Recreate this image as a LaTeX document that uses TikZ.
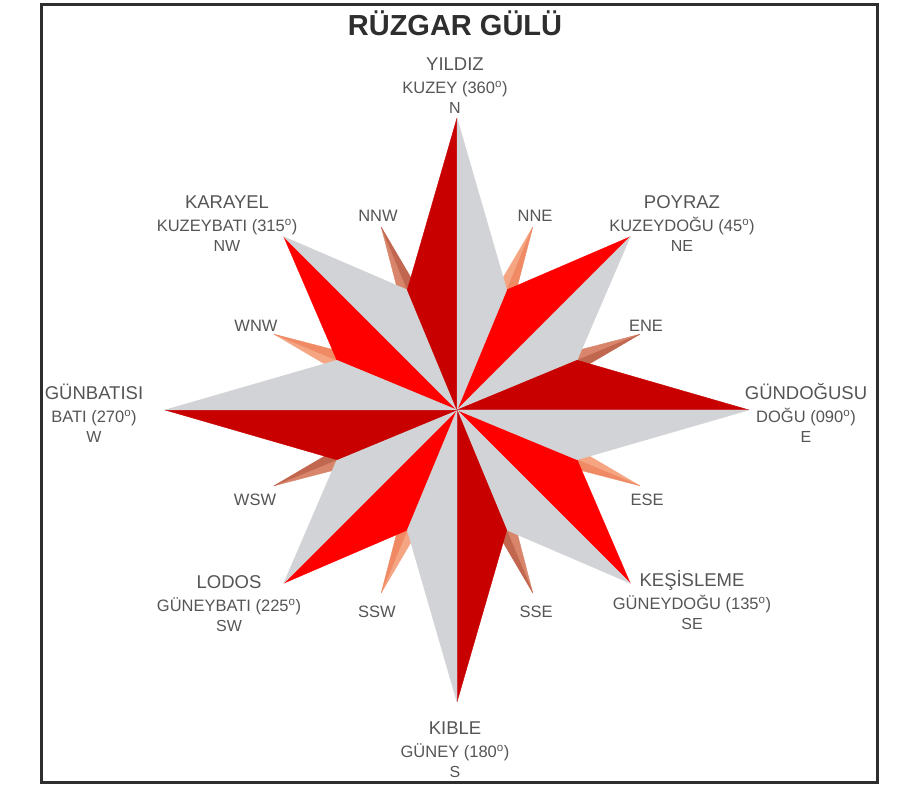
\documentclass[tikz,border=0pt]{standalone}
\usepackage{fontspec}
\setmainfont{Liberation Sans}
\usepackage{tikz}
\usetikzlibrary{positioning}
\definecolor{darkred}{HTML}{C80000}
\definecolor{brightred}{HTML}{FF0000}
\definecolor{petal}{HTML}{D2D3D6}
\definecolor{rust}{HTML}{C2674F}
\definecolor{rustlight}{HTML}{D8856B}
\definecolor{salmon}{HTML}{EF8A65}
\definecolor{salmonlight}{HTML}{F6A583}
\definecolor{labelgray}{HTML}{555555}
\definecolor{titlegray}{HTML}{2E2E2E}

\begin{document}
\begin{tikzpicture}[
  x=1pt, y=1pt,
  lbl/.style={text=labelgray, inner sep=0pt, text depth=0pt},
  wind/.style={lbl, text height=13.3pt, font=\fontsize{18.5}{18.5}\selectfont},
  bearing/.style={lbl, text height=11.9pt, font=\fontsize{16.5}{16.5}\selectfont},
  abbr/.style={lbl, text height=11.5pt, font=\fontsize{16}{16}\selectfont},
  minor/.style={lbl, text height=11.9pt, font=\fontsize{16.5}{16.5}\selectfont},
  petalfill/.style={fill=#1, draw=#1, line width=.4pt, line join=round}
]
\useasboundingbox (0,0) rectangle (912,791);
\fill[white] (0,0) rectangle (912,791);
\draw[line width=3pt, titlegray] (41.5,8) rectangle (877,786.5);

\begin{scope}[shift={(457,381)}]
\foreach \b/\cl/\cr in {22.5/salmonlight/salmon,67.5/rustlight/rust,112.5/salmonlight/salmon,157.5/rustlight/rust,
                        202.5/salmonlight/salmon,247.5/rustlight/rust,292.5/salmonlight/salmon,337.5/rustlight/rust}{
  \path[petalfill=\cl] (0,0) -- ({105-\b}:70) -- ({90-\b}:198) -- cycle;
  \path[petalfill=\cr] (0,0) -- ({90-\b}:198) -- ({75-\b}:70) -- cycle;
}
\foreach \b/\r/\col in {45/245/brightred,135/245/brightred,225/245/brightred,315/245/brightred,
                        0/292/darkred,90/292/darkred,180/292/darkred,270/292/darkred}{
  \path[petalfill=\col] (0,0) -- ({112.5-\b}:130) -- ({90-\b}:\r) -- cycle;
  \path[petalfill=petal] (0,0) -- ({90-\b}:\r) -- ({67.5-\b}:130) -- cycle;
}
\end{scope}

\node[text=titlegray, font=\fontsize{29}{29}\selectfont\bfseries, inner sep=0pt] (title) at (455,768) {RÜZGAR GÜLÜ};

\node[wind] (yildiz) at (455,727) {YILDIZ};
\node[bearing, below=10.4pt of yildiz] (kuzey) {KUZEY (360\textsuperscript{o})};
\node[abbr, below=8.3pt of kuzey] (n) {N};

\node[wind] (karayel) at (227,589) {KARAYEL};
\node[bearing, below=10.4pt of karayel] (kuzeybati) {KUZEYBATI (315\textsuperscript{o})};
\node[abbr, below=8.3pt of kuzeybati] (nw) {NW};

\node[wind] (poyraz) at (682,589) {POYRAZ};
\node[bearing, below=10.4pt of poyraz] (kuzeydogu) {KUZEYDOĞU (45\textsuperscript{o})};
\node[abbr, below=8.3pt of kuzeydogu] (ne) {NE};

\node[wind] (gunbatisi) at (94,398) {GÜNBATISI};
\node[bearing, below=10.4pt of gunbatisi] (bati) {BATI (270\textsuperscript{o})};
\node[abbr, below=8.3pt of bati] (w) {W};

\node[wind] (gundogusu) at (806,398) {GÜNDOĞUSU};
\node[bearing, below=10.4pt of gundogusu] (dogu) {DOĞU (090\textsuperscript{o})};
\node[abbr, below=8.3pt of dogu] (e) {E};

\node[wind] (lodos) at (229,209) {LODOS};
\node[bearing, below=10.4pt of lodos] (guneybati) {GÜNEYBATI (225\textsuperscript{o})};
\node[abbr, below=8.3pt of guneybati] (sw) {SW};

\node[wind] (kesisleme) at (692,211) {KEŞİSLEME};
\node[bearing, below=10.4pt of kesisleme] (guneydogu) {GÜNEYDOĞU (135\textsuperscript{o})};
\node[abbr, below=8.3pt of guneydogu] (se) {SE};

\node[wind] (kible) at (455,63) {KIBLE};
\node[bearing, below=10.4pt of kible] (guney) {GÜNEY (180\textsuperscript{o})};
\node[abbr, below=8.3pt of guney] (s) {S};

\node[minor] (nnw) at (378,575) {NNW};
\node[minor] (nne) at (535,575) {NNE};
\node[minor] (ene) at (646,465) {ENE};
\node[minor] (ese) at (647,291) {ESE};
\node[minor] (sse) at (536,179) {SSE};
\node[minor] (ssw) at (377,179) {SSW};
\node[minor] (wsw) at (255,291) {WSW};
\node[minor] (wnw) at (256,465) {WNW};
\end{tikzpicture}
\end{document}
